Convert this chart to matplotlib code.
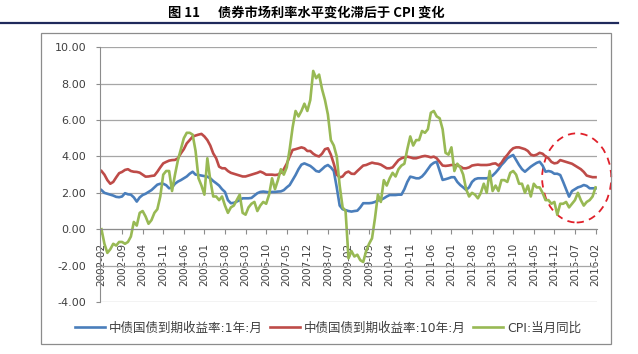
import numpy as np
import pandas as pd
import matplotlib
matplotlib.use("Agg")
import matplotlib.pyplot as plt
from matplotlib.patches import Ellipse, Rectangle
from matplotlib.lines import Line2D

plt.rcParams['font.family'] = ['DejaVu Sans', 'Noto Sans CJK SC']

# monthly categories 2002-02 .. 2016-02
months = [p.strftime('%Y-%m') for p in pd.period_range('2002-02', '2016-02', freq='M')]

# 中债国债到期收益率:1年:月
yield_1y = [
    2.15, 2.0, 1.95, 1.9, 1.85, 1.78, 1.76, 1.8, 1.98, 1.92, 1.9,
    1.75, 1.52, 1.75, 1.88, 1.95, 2.05, 2.15, 2.3, 2.45, 2.5, 2.5, 2.42,
    2.25, 2.3, 2.5, 2.62, 2.7, 2.8, 2.9, 3.05, 3.16, 3.0, 2.98, 2.95,
    2.92, 2.89, 2.8, 2.65, 2.53, 2.4, 2.2, 2.05, 1.6, 1.43, 1.45, 1.52,
    1.6, 1.7, 1.7, 1.7, 1.72, 1.85, 1.98, 2.05, 2.07, 2.05, 2.03, 2.05,
    2.05, 2.07, 2.08, 2.15, 2.3, 2.43, 2.7, 2.98, 3.3, 3.55, 3.62, 3.55,
    3.48, 3.35, 3.2, 3.16, 3.3, 3.45, 3.53, 3.4, 3.2, 2.3, 1.3, 1.1,
    1.05, 1.0, 0.97, 1.0, 1.02, 1.2, 1.43, 1.43, 1.43, 1.45, 1.5, 1.58,
    1.61, 1.7, 1.8, 1.88, 1.88, 1.88, 1.9, 1.9, 2.2, 2.6, 2.89, 2.85,
    2.8, 2.8, 2.9, 3.08, 3.3, 3.53, 3.65, 3.71, 3.2, 2.71, 2.75, 2.8,
    2.86, 2.86, 2.6, 2.43, 2.3, 2.16, 2.3, 2.6, 2.75, 2.8, 2.8, 2.8,
    2.8, 2.85, 2.95, 3.11, 3.3, 3.53, 3.7, 3.9, 4.0, 4.08, 3.8, 3.53,
    3.3, 3.16, 3.3, 3.44, 3.55, 3.65, 3.71, 3.5, 3.16, 3.2, 3.16, 3.05,
    3.05, 2.98, 2.6, 2.2, 1.79, 2.1, 2.2, 2.3, 2.35, 2.43, 2.38, 2.25,
    2.25, 2.25,
]

# 中债国债到期收益率:10年:月
yield_10y = [
    3.2, 3.0, 2.7, 2.5, 2.6, 2.85, 3.08, 3.15, 3.26, 3.3, 3.2,
    3.16, 3.15, 3.11, 3.0, 2.89, 2.9, 2.93, 2.95, 3.16, 3.4, 3.62, 3.7,
    3.77, 3.8, 3.81, 3.9, 4.17, 4.4, 4.72, 4.9, 5.09, 5.15, 5.2, 5.24,
    5.1, 4.9, 4.6, 4.17, 3.9, 3.44, 3.35, 3.35, 3.2, 3.1, 3.05, 3.0,
    2.95, 2.9, 2.9, 2.95, 3.0, 3.05, 3.1, 3.17, 3.1, 3.0, 3.0, 3.0,
    2.98, 3.0, 3.1, 3.3, 3.6, 4.0, 4.36, 4.4, 4.45, 4.5, 4.45, 4.3,
    4.3, 4.15, 4.05, 4.0, 4.15, 4.4, 4.45, 4.1, 3.6, 3.0, 2.85, 2.9,
    3.1, 3.17, 3.05, 3.04, 3.2, 3.35, 3.5, 3.53, 3.6, 3.66, 3.62, 3.6,
    3.55, 3.45, 3.35, 3.35, 3.4, 3.6, 3.8, 3.9, 3.95, 3.99, 3.95, 3.9,
    3.9, 3.95, 4.0, 4.03, 4.0, 3.95, 3.99, 3.9, 3.7, 3.5, 3.48, 3.5,
    3.53, 3.53, 3.5, 3.45, 3.35, 3.35, 3.4, 3.5, 3.53, 3.55, 3.53, 3.53,
    3.53, 3.55, 3.6, 3.62, 3.5, 3.65, 3.9, 4.08, 4.3, 4.45, 4.5, 4.5,
    4.45, 4.4, 4.3, 4.1, 4.05, 4.1, 4.2, 4.15, 4.0, 3.9, 3.7, 3.62,
    3.65, 3.8, 3.75, 3.7, 3.65, 3.6, 3.5, 3.4, 3.3, 3.15, 2.95, 2.9,
    2.86, 2.86,
]

# CPI:当月同比
cpi = [
    0.0, -0.8, -1.3, -1.1, -0.8, -0.9, -0.7, -0.7, -0.8, -0.7, -0.4,
    0.4, 0.2, 0.9, 1.0, 0.7, 0.3, 0.5, 0.9, 1.1, 1.8, 3.0, 3.2,
    3.2, 2.1, 3.0, 3.8, 4.4, 5.0, 5.3, 5.3, 5.2, 4.3, 2.8, 2.4,
    1.9, 3.9, 2.7, 1.8, 1.8, 1.6, 1.8, 1.3, 0.9, 1.2, 1.3, 1.6,
    1.9, 0.9, 0.8, 1.2, 1.4, 1.5, 1.0, 1.3, 1.5, 1.4, 1.9, 2.8,
    2.2, 2.7, 3.3, 3.0, 3.4, 4.4, 5.6, 6.5, 6.2, 6.5, 6.9, 6.5,
    7.1, 8.7, 8.3, 8.5, 7.7, 7.1, 6.3, 4.9, 4.6, 4.0, 2.4, 1.2,
    1.0, -1.6, -1.2, -1.5, -1.4, -1.7, -1.8, -1.2, -0.8, -0.5, 0.6, 1.9,
    1.5, 2.7, 2.4, 2.8, 3.1, 2.9, 3.3, 3.5, 3.6, 4.4, 5.1, 4.6,
    4.9, 4.9, 5.4, 5.3, 5.5, 6.4, 6.5, 6.2, 6.1, 5.5, 4.2, 4.1,
    4.5, 3.2, 3.6, 3.4, 3.0, 2.2, 1.8, 2.0, 1.9, 1.7, 2.0, 2.5,
    2.0, 3.2, 2.1, 2.4, 2.1, 2.7, 2.7, 2.6, 3.1, 3.2, 3.0, 2.5,
    2.5, 2.0, 2.4, 1.8, 2.5, 2.3, 2.3, 2.0, 1.6, 1.6, 1.4, 1.5,
    0.8, 1.4, 1.4, 1.5, 1.2, 1.4, 1.6, 2.0, 1.6, 1.3, 1.5, 1.6,
    1.8, 2.3,
]

series_names = ['中债国债到期收益率:1年:月', '中债国债到期收益率:10年:月', 'CPI:当月同比']
series_colors = ['#4a7ebb', '#be4b48', '#98b954']
title = '图 11      债券市场利率水平变化滞后于 CPI 变化'

W, H = 638, 354
fig = plt.figure(figsize=(W / 100, H / 100), dpi=100)

# outer chart frame and navy rule under the title
fig.add_artist(Rectangle((41 / W, 1 - 344 / H), 570 / W, 311 / H, transform=fig.transFigure,
                         fill=False, edgecolor='#8c8c8c', lw=0.9))
fig.add_artist(Line2D([0, 618 / W], [1 - 23 / H] * 2, transform=fig.transFigure,
                      color='#1f2a5c', lw=1.6))
fig.text(306 / W, 1 - 13 / H, title, ha='center', va='center', fontsize=9.5,
         fontweight='bold', family=['Noto Sans CJK SC', 'DejaVu Sans'])

ax = fig.add_axes([100 / W, 1 - 302 / H, 497 / W, (302 - 47.3) / H])

x = np.arange(len(months))
for vals, name, col in zip([yield_1y, yield_10y, cpi], series_names, series_colors):
    ax.plot(x, vals, color=col, lw=1.9, label=name, solid_joinstyle='round')

ax.set_xlim(-0.5, len(months) - 0.5)
ax.set_ylim(-4, 10)
ax.set_yticks(np.arange(-4, 11, 2))
ax.set_yticklabels(['%.2f' % v for v in np.arange(-4, 11, 2)])
ax.yaxis.grid(True, color='#a6a6a6', lw=0.9)
ax.set_axisbelow(True)

ax.set_xticks(x[::7])
ax.set_xticklabels(months[::7])
ax.spines['bottom'].set_position(('data', 0))
for s in ['top', 'right']:
    ax.spines[s].set_visible(False)
ax.spines['bottom'].set_color('#8c8c8c')
ax.spines['left'].set_color('#8c8c8c')
ax.tick_params(axis='x', direction='out', length=3.5, color='#8c8c8c', pad=6,
               labelrotation=90, labelsize=7.5, labelcolor='#404040')
ax.tick_params(axis='y', direction='out', length=3, color='#8c8c8c', pad=7,
               labelsize=8, labelcolor='#404040')

# highlighted recent period
ax.add_patch(Ellipse((161.6, 2.82), 23.5, 4.9, fill=False, edgecolor='#e0202a',
                     lw=1.3, ls=(0, (4, 3)), clip_on=False))

fig.legend(loc='center', bbox_to_anchor=(328 / W, 1 - 328 / H), ncol=3, frameon=False,
           handlelength=2.4, handletextpad=0.3, columnspacing=0.6,
           labelcolor='#404040', prop={'family': ['DejaVu Sans', 'Noto Sans CJK SC'], 'size': 9})

fig.savefig('out.png', dpi=100)
